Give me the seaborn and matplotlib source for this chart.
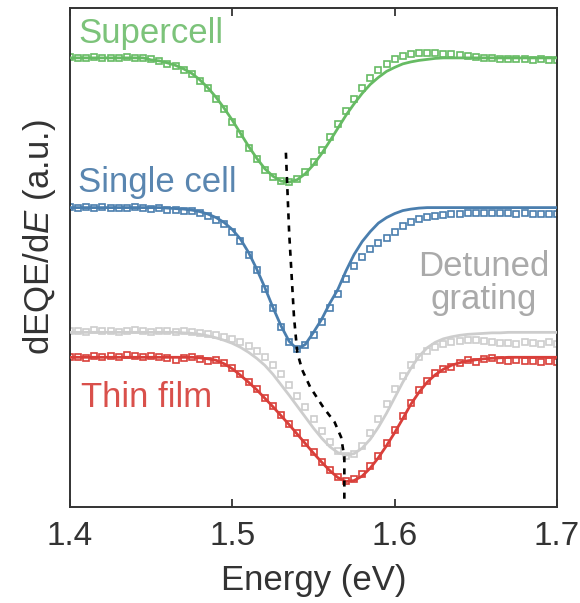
import numpy as np
import pandas as pd
import matplotlib
matplotlib.use("Agg")
import matplotlib.pyplot as plt
import seaborn as sns

# ---------------- data ----------------
energy = [1.400, 1.405, 1.410, 1.415, 1.420, 1.425, 1.430, 1.435, 1.440, 1.445,
          1.450, 1.455, 1.460, 1.465, 1.470, 1.475, 1.480, 1.485, 1.490, 1.495,
          1.500, 1.505, 1.510, 1.515, 1.520, 1.525, 1.530, 1.535, 1.540, 1.545,
          1.550, 1.555, 1.560, 1.565, 1.570, 1.575, 1.580, 1.585, 1.590, 1.595,
          1.600, 1.605, 1.610, 1.615, 1.620, 1.625, 1.630, 1.635, 1.640, 1.645,
          1.650, 1.655, 1.660, 1.665, 1.670, 1.675, 1.680, 1.685, 1.690, 1.695,
          1.700]

supercell_fit = [90.0, 90.0, 90.0, 90.0, 90.0, 90.0, 90.0, 90.0, 90.0, 90.0,
                 89.6, 89.4, 89.0, 88.5, 87.8, 86.9, 85.6, 84.0, 82.1, 79.9,
                 77.5, 74.9, 72.3, 69.9, 67.8, 66.3, 65.3, 65.1, 65.6, 66.8,
                 68.6, 70.8, 73.3, 75.9, 78.5, 80.8, 82.9, 84.7, 86.1, 87.3,
                 88.1, 88.8, 89.2, 89.5, 89.7, 89.9, 90.0, 90.0, 90.0, 90.0,
                 90.0, 90.0, 90.0, 90.0, 90.0, 90.0, 90.0, 90.0, 90.0, 90.0,
                 90.0]
supercell_data = [90.1, 90.0, 89.9, 90.1, 90.0, 90.0, 89.9, 90.1, 90.0, 89.9,
                  89.8, 89.3, 88.8, 88.4, 87.6, 86.7, 85.3, 83.9, 81.8, 79.7,
                  77.2, 74.8, 72.0, 69.7, 67.6, 66.1, 65.3, 65.2, 65.8, 67.2,
                  69.1, 71.5, 74.1, 76.8, 79.4, 81.8, 84.0, 85.9, 87.6, 88.8,
                  89.7, 90.4, 90.8, 91.0, 91.0, 90.9, 90.8, 90.7, 90.6, 90.4,
                  90.2, 90.0, 89.9, 89.8, 89.8, 89.7, 89.7, 89.6, 89.7, 89.6,
                  89.6]

single_fit = [60.0, 60.0, 60.0, 60.0, 60.0, 60.0, 60.0, 60.0, 60.0, 60.0,
              60.0, 60.0, 59.9, 59.8, 59.7, 59.5, 59.2, 58.7, 58.0, 57.0,
              55.6, 53.7, 51.0, 47.7, 44.0, 40.0, 36.3, 33.2, 31.6, 32.6,
              35.0, 37.6, 40.8, 43.6, 47.3, 50.6, 53.2, 55.2, 56.9, 58.0,
              58.8, 59.4, 59.7, 59.9, 60.0, 60.0, 60.0, 60.0, 60.0, 60.0,
              60.0, 60.0, 60.0, 60.0, 60.0, 60.0, 60.0, 60.0, 60.0, 60.0,
              60.0]
single_data = [60.2, 60.0, 60.1, 59.9, 60.1, 60.0, 59.9, 60.0, 60.1, 59.9,
               59.8, 59.9, 59.6, 59.6, 59.3, 59.3, 58.9, 58.4, 57.6, 56.7,
               55.1, 53.4, 50.6, 47.4, 43.6, 39.8, 36.0, 33.0, 31.6, 32.5,
               34.4, 37.0, 39.8, 42.6, 45.6, 48.2, 50.2, 51.8, 52.9, 54.0,
               55.2, 56.3, 57.2, 57.8, 58.2, 58.4, 58.6, 58.7, 58.8, 58.9,
               58.9, 58.9, 59.0, 58.9, 58.9, 58.8, 58.9, 58.8, 58.8, 58.8,
               58.8]

detuned_fit = [35.0, 35.0, 35.0, 35.0, 35.0, 35.0, 35.0, 35.0, 35.0, 35.0,
               35.0, 35.0, 35.0, 35.0, 34.9, 34.8, 34.6, 34.3, 33.9, 33.4,
               32.8, 32.0, 31.0, 29.8, 28.4, 26.6, 24.5, 22.4, 20.2, 18.0,
               15.8, 13.8, 12.1, 10.9, 10.4, 10.7, 11.8, 13.6, 16.0, 18.8,
               21.9, 25.0, 27.8, 30.2, 31.9, 33.0, 33.7, 34.1, 34.4, 34.6,
               34.7, 34.8, 34.9, 34.9, 35.0, 35.0, 35.0, 35.0, 35.0, 35.0,
               35.0]
detuned_data = [35.2, 35.3, 35.1, 35.4, 35.2, 35.3, 35.1, 35.2, 35.4, 35.2,
                35.1, 35.3, 35.2, 35.1, 35.2, 35.0, 34.9, 34.6, 34.4, 34.0,
                33.6, 33.0, 32.3, 31.3, 30.0, 28.4, 26.6, 24.5, 22.3, 20.0,
                17.6, 15.2, 13.0, 11.2, 10.2, 10.6, 12.2, 14.8, 17.6, 20.6,
                23.6, 26.2, 28.4, 30.0, 31.2, 32.0, 32.6, 33.0, 33.3, 33.4,
                33.5, 33.3, 33.0, 32.8, 32.9, 32.7, 33.0, 32.8, 32.6, 33.0,
                32.7]

thin_fit = [30.0, 30.0, 30.0, 30.0, 30.0, 30.0, 30.0, 30.0, 30.0, 30.0,
            30.0, 30.0, 30.0, 30.0, 30.0, 30.0, 29.9, 29.7, 29.4, 28.7,
            27.7, 26.4, 25.0, 23.5, 21.8, 20.1, 18.3, 16.5, 14.6, 12.7,
            10.8, 9.0, 7.3, 5.9, 5.1, 5.3, 6.2, 7.8, 9.9, 12.3,
            14.9, 17.7, 20.6, 23.0, 25.0, 26.5, 27.6, 28.4, 28.9, 29.3,
            29.5, 29.7, 29.8, 29.9, 30.0, 30.0, 30.0, 30.0, 30.0, 30.0,
            30.0]
thin_data = [30.0, 30.1, 29.9, 30.2, 30.0, 30.3, 30.1, 30.4, 30.2, 30.0,
             30.3, 30.1, 29.8, 29.5, 29.9, 30.1, 29.7, 29.3, 29.5, 28.9,
             27.8, 26.6, 25.1, 23.7, 21.9, 20.3, 18.4, 16.6, 14.8, 12.8,
             11.0, 9.1, 7.5, 6.1, 5.2, 5.6, 6.6, 8.2, 10.3, 12.8,
             15.4, 18.2, 20.9, 23.4, 25.3, 26.8, 27.6, 28.0, 28.8, 29.4,
             29.1, 29.6, 29.8, 29.5, 29.3, 29.4, 29.2, 29.3, 29.1, 29.2,
             29.0]

# guide line through the dip minima
guide_energy = [1.533, 1.535, 1.538, 1.540, 1.543, 1.548, 1.556, 1.563, 1.567, 1.569, 1.569]
guide_value = [71.0, 55.0, 38.0, 31.0, 27.5, 24.0, 20.0, 17.0, 14.0, 10.0, 0.8]

series_names = ["Supercell", "Single cell", "Detuned\ngrating", "Thin film"]
xticks = [1.4, 1.5, 1.6, 1.7]
xtick_labels = ["1.4", "1.5", "1.6", "1.7"]

# ---------------- style ----------------
sns.set_theme(style="white")
plt.rcParams["font.family"] = ["Liberation Sans", "DejaVu Sans"]
plt.rcParams["mathtext.fontset"] = "custom"
plt.rcParams["mathtext.rm"] = "Liberation Sans"
plt.rcParams["mathtext.it"] = "Liberation Sans:italic"

line_colors = ["#66bb63", "#4a7eae", "#cdcdcd", "#d93f3a"]
text_colors = ["#7cc37a", "#5a86b0", "#aaaaaa", "#d9504b"]

fig = plt.figure(figsize=(5.8, 6.03), dpi=100)
ax = fig.add_axes([70 / 580, 1 - 507 / 603, 487 / 580, 499 / 603])

series = [(supercell_data, supercell_fit), (single_data, single_fit),
          (detuned_data, detuned_fit), (thin_data, thin_fit)]

for (dat, fit), c in zip(series, line_colors):
    sns.lineplot(x=energy, y=dat, ax=ax, marker="s", linestyle="none",
                 markersize=4.4, markerfacecolor="none", markeredgecolor=c,
                 markeredgewidth=1.2, color=c, errorbar=None, zorder=2)
    sns.lineplot(x=energy, y=fit, ax=ax, color=c, linewidth=2.0,
                 errorbar=None, zorder=3)

sns.lineplot(x=guide_energy, y=guide_value, ax=ax, sort=False, estimator=None,
             color="black", linewidth=1.9, linestyle=(0, (2.3, 2.3)), zorder=4)

# labels on the curves
ax.text(1.405, 93.0, series_names[0], color=text_colors[0], fontsize=25,
        ha="left", va="baseline")
ax.text(1.405, 63.2, series_names[1], color=text_colors[1], fontsize=25,
        ha="left", va="baseline")
ax.text(1.655, 44.8, series_names[2], color=text_colors[2], fontsize=25,
        ha="center", va="center", multialignment="center", linespacing=1.0)
ax.text(1.407, 20.0, series_names[3], color=text_colors[3], fontsize=25,
        ha="left", va="baseline")

ax.set_xlim(1.4, 1.7)
ax.set_ylim(0, 100)
ax.set_xticks(xticks)
ax.set_xticklabels(xtick_labels)
ax.set_yticks([])
ax.tick_params(axis="x", direction="in", top=True, bottom=True, length=6,
               width=1.2, color="#222222", labelsize=24, labelcolor="#333333",
               pad=10)
for s in ax.spines.values():
    s.set_color("#333333")
    s.set_linewidth(1.4)

ax.set_xlabel("Energy (eV)", fontsize=25, color="#333333", labelpad=9)
ax.set_ylabel(r"dEQE/d$E$ (a.u.)", fontsize=25, color="#333333")
ax.yaxis.set_label_coords(-0.025, 0.54)

fig.savefig("out.png", dpi=100, facecolor="white")
